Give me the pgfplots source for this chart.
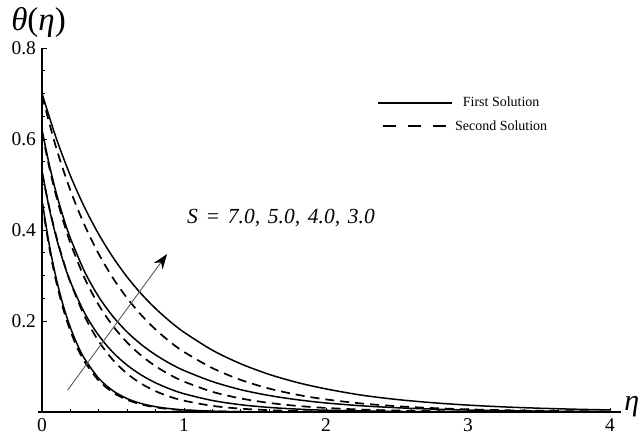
\documentclass[border=0pt]{standalone}
\usepackage{fontspec}
\setmainfont{Liberation Serif}
\usepackage{pgfplots}
\pgfplotsset{compat=1.18}
\usetikzlibrary{arrows.meta}
\pgfplotsset{
  sol/.style={black, no marks, line width=1.5pt, smooth, solid},
  sec/.style={black, no marks, line width=1.7pt, smooth, dash pattern=on 9pt off 6pt},
}
\newcommand\sps{\hspace{0.36em}}
\begin{document}
\begin{tikzpicture}
\begin{axis}[
  x=142pt, y=455pt,
  xmin=-0.03, xmax=4.08, ymin=0, ymax=0.8,
  axis lines=middle,
  axis line style={line width=1.2pt, -},
  hide obscured x ticks=false, hide obscured y ticks=false,
  xtick={0,1,2,3,4}, ytick={0.2,0.4,0.6,0.8},
  minor x tick num=4, minor y tick num=3,
  major tick length=4.5pt, minor tick length=3pt,
  tick style={black, line width=0.8pt},
  tick align=inside,
  /pgf/number format/assume math mode=true,
  yticklabel style={/pgf/number format/fixed, /pgf/number format/precision=1, /pgf/number format/fixed zerofill, font=\fontsize{19.5}{20}\selectfont, xshift=-2.5pt},
  xticklabel style={font=\fontsize{19.5}{20}\selectfont, yshift=-3pt},
  clip=false,
  legend style={at={(axis cs:2.36,0.697)}, anchor=north west, draw=none, fill=none, font=\fontsize{14}{15}\selectfont, row sep=8pt, inner sep=0pt},
  legend cell align=center,
  legend image code/.code={\draw[#1] (0pt,0pt) -- (74pt,0pt);},
]
\addlegendimage{black, line width=1.7pt, solid}
\addlegendentry{First Solution}
\addlegendimage{black, line width=1.7pt, dash pattern=on 13pt off 12pt, dash phase=20.5pt}
\addlegendentry{Second Solution}
% S = 3.0
\addplot[sol] coordinates {
(0,0.700) (0.1,0.6018) (0.2,0.5192) (0.3,0.4494) (0.4,0.3902) (0.5,0.3398) (0.6,0.2964) (0.7,0.2592) (0.8,0.2272) (0.9,0.1994) (1.0,0.1753) (1.2,0.1358) (1.4,0.1059) (1.6,0.0827) (1.8,0.0647) (2.0,0.0508) (2.25,0.0371) (2.5,0.0275) (2.75,0.0205) (3.0,0.0152) (3.25,0.0113) (3.5,0.0084) (3.75,0.0062) (4.0,0.0046)};
\addplot[sec] coordinates {
(0,0.695) (0.1,0.5803) (0.2,0.4869) (0.3,0.4104) (0.4,0.3470) (0.5,0.2941) (0.6,0.2500) (0.7,0.2127) (0.8,0.1813) (0.9,0.1546) (1.0,0.1320) (1.2,0.0965) (1.4,0.0705) (1.6,0.0515) (1.8,0.0378) (2.0,0.0277) (2.25,0.0188) (2.5,0.0128) (2.75,0.0087) (3.0,0.0059) (3.25,0.0040) (3.5,0.0027) (3.75,0.0018) (4.0,0.0012)};
% S = 4.0
\addplot[sol] coordinates {
(0,0.620) (0.05,0.5449) (0.1,0.4815) (0.15,0.4278) (0.2,0.3819) (0.3,0.3084) (0.4,0.2528) (0.5,0.2098) (0.6,0.1756) (0.7,0.1481) (0.8,0.1255) (0.9,0.1068) (1.0,0.0912) (1.2,0.0669) (1.4,0.0490) (1.6,0.0363) (1.8,0.0269) (2.0,0.0199) (2.25,0.0137) (2.5,0.0094) (2.75,0.0065) (3.0,0.0044) (3.25,0.0030) (3.5,0.0021) (3.75,0.0014) (4.0,0.0010)};
\addplot[sec] coordinates {
(0,0.615) (0.05,0.5390) (0.1,0.4743) (0.15,0.4189) (0.2,0.3711) (0.3,0.2939) (0.4,0.2348) (0.5,0.1888) (0.6,0.1526) (0.7,0.1237) (0.8,0.1006) (0.9,0.0820) (1.0,0.0669) (1.2,0.0444) (1.4,0.0298) (1.6,0.0200) (1.8,0.0134) (2.0,0.0090) (2.25,0.0054) (2.5,0.0033) (2.75,0.0020) (3.0,0.0012) (3.5,0.0004) (4.0,0.0001)};
% S = 5.0
\addplot[sol] coordinates {
(0,0.530) (0.05,0.4491) (0.1,0.3837) (0.15,0.3302) (0.2,0.2859) (0.3,0.2175) (0.4,0.1680) (0.5,0.1309) (0.6,0.1028) (0.7,0.0811) (0.8,0.0641) (0.9,0.0508) (1.0,0.0402) (1.2,0.0253) (1.4,0.0160) (1.6,0.0101) (1.8,0.0064) (2.0,0.0040) (2.5,0.0013) (3.0,0.0004) (4.0,0.0000)};
\addplot[sec] coordinates {
(0,0.525) (0.05,0.4508) (0.1,0.3870) (0.15,0.3323) (0.2,0.2853) (0.3,0.2103) (0.4,0.1550) (0.5,0.1142) (0.6,0.0842) (0.7,0.0621) (0.8,0.0458) (0.9,0.0337) (1.0,0.0249) (1.2,0.0135) (1.4,0.0074) (1.6,0.0040) (1.8,0.0022) (2.0,0.0012) (2.5,0.0003) (3.0,0.0001) (4.0,0.0000)};
% S = 7.0
\addplot[sol] coordinates {
(0,0.465) (0.05,0.3694) (0.1,0.2935) (0.15,0.2332) (0.2,0.1853) (0.25,0.1472) (0.3,0.1170) (0.4,0.0738) (0.5,0.0466) (0.6,0.0294) (0.7,0.0186) (0.8,0.0117) (0.9,0.0074) (1.0,0.0047) (1.2,0.0019) (1.4,0.0007) (1.6,0.0003) (2.0,0.0000) (3.0,0.0000) (4.0,0.0000)};
\addplot[sec] coordinates {
(0,0.460) (0.05,0.3628) (0.1,0.2861) (0.15,0.2256) (0.2,0.1779) (0.25,0.1403) (0.3,0.1106) (0.4,0.0688) (0.5,0.0428) (0.6,0.0266) (0.7,0.0166) (0.8,0.0103) (0.9,0.0064) (1.0,0.0040) (1.2,0.0015) (1.4,0.0006) (1.6,0.0002) (2.0,0.0000) (3.0,0.0000) (4.0,0.0000)};
% annotations
\draw[gray!70!black, line width=0.9pt, -{Stealth[black, length=15pt, width=11pt]}] (axis cs:0.18,0.048) -- (axis cs:0.88,0.347);
\node[anchor=base west, font=\fontsize{21.5}{22}\selectfont\itshape, inner sep=0pt] at (axis cs:1.021,0.415) {S\sps=\sps7.0,\sps5.0,\sps4.0,\sps3.0};
\node[anchor=base west, font=\fontsize{33}{34}\selectfont, inner sep=0pt] at (axis cs:-0.218,0.838) {\textit{θ}(\textit{η})};
\node[anchor=base west, font=\fontsize{30}{31}\selectfont, inner sep=0pt] at (axis cs:4.10,0.004) {\textit{η}};
\coordinate (bl) at (axis cs:-0.296,-0.0593);
\coordinate (tr) at (axis cs:4.239,0.9055);
\end{axis}
\pgfresetboundingbox
\path[use as bounding box] (bl) rectangle (tr);
\end{tikzpicture}
\end{document}
